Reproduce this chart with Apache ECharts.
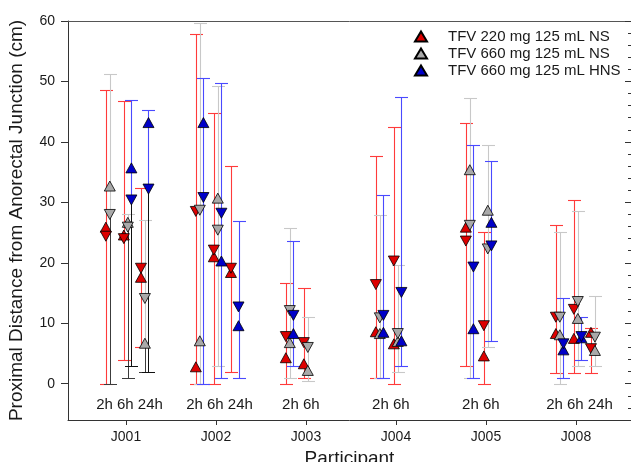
<!DOCTYPE html>
<html>
<head>
<meta charset="utf-8">
<script src="https://cdn.jsdelivr.net/npm/echarts@6/dist/echarts.min.js"></script>
<style>
html,body{margin:0;padding:0;background:#fff;}
#chart{width:631px;height:462px;}
</style>
</head>
<body>
<div id="chart"></div>
<script>
// ---------------- DATA ----------------
const participants = ['J001', 'J002', 'J003', 'J004', 'J005', 'J008'];
const timePoints = ['2h', '6h', '24h'];
const yTickValues = [0, 10, 20, 30, 40, 50, 60];
const treatmentNames = ['TFV 220 mg 125 mL NS', 'TFV 660 mg 125 mL NS', 'TFV 660 mg 125 mL HNS'];

// rows: [participant, time, up-triangle value, down-triangle value, min, max]  (cm)
const tfv220NS = [
  ['J001', '2h', 25.9, 24.4, 0.0, 48.6],
  ['J001', '6h', 24.6, 24.0, 4.0, 46.7],
  ['J001', '24h', 17.6, 19.1, 6.0, 32.4],
  ['J002', '2h', 2.8, 28.5, 0.0, 57.8],
  ['J002', '6h', 21.0, 22.1, 0.0, 44.7],
  ['J002', '24h', 18.4, 19.1, 1.9, 36.0],
  ['J003', '2h', 4.3, 7.8, 0.0, 16.6],
  ['J003', '6h', 3.3, 6.8, 1.0, 15.9],
  ['J004', '2h', 8.6, 16.4, 1.0, 37.7],
  ['J004', '6h', 6.6, 20.3, 0.0, 42.5],
  ['J005', '2h', 25.9, 23.6, 3.0, 43.2],
  ['J005', '6h', 4.6, 9.6, 0.0, 25.1],
  ['J008', '2h', 8.3, 11.0, 1.8, 26.2],
  ['J008', '6h', 7.5, 12.3, 1.8, 30.4],
  ['J008', '24h', 8.5, 5.8, 1.8, 9.3]
];
const tfv660NS = [
  ['J001', '2h', 32.7, 28.0, 0.0, 51.3],
  ['J001', '6h', 26.7, 25.9, 1.0, 28.0],
  ['J001', '24h', 6.7, 14.1, 1.9, 27.1],
  ['J002', '2h', 7.1, 28.7, 0.0, 59.7],
  ['J002', '6h', 30.7, 25.4, 3.0, 49.2],
  ['J003', '2h', 6.8, 12.1, 1.0, 25.7],
  ['J003', '6h', 2.2, 6.0, 0.5, 11.0],
  ['J004', '2h', 8.3, 10.9, 1.0, 27.9],
  ['J004', '6h', 7.0, 8.3, 2.0, 19.6],
  ['J005', '2h', 35.4, 26.2, 1.0, 47.2],
  ['J005', '6h', 28.7, 22.3, 6.0, 39.5],
  ['J008', '2h', 8.1, 11.0, 0.0, 25.1],
  ['J008', '6h', 10.8, 13.6, 3.0, 28.6],
  ['J008', '24h', 5.5, 7.7, 3.0, 14.5]
];
const tfv660HNS = [
  ['J001', '6h', 35.7, 30.4, 3.0, 47.0],
  ['J001', '24h', 43.2, 32.2, 1.9, 45.2],
  ['J002', '2h', 43.2, 30.8, 0.0, 50.6],
  ['J002', '6h', 20.3, 28.2, 1.0, 49.8],
  ['J002', '24h', 9.6, 12.7, 1.0, 27.0],
  ['J003', '2h', 8.3, 11.3, 3.0, 23.6],
  ['J004', '2h', 8.5, 11.3, 1.0, 31.2],
  ['J004', '6h', 7.1, 15.1, 3.0, 47.5],
  ['J005', '2h', 9.1, 19.3, 1.0, 39.5],
  ['J005', '6h', 26.7, 22.8, 7.0, 36.9],
  ['J008', '2h', 5.6, 6.6, 1.0, 14.1],
  ['J008', '6h', 7.6, 7.8, 4.0, 11.1]
];

// ---------------- LAYOUT / STYLE ----------------
const timeOffset = { '2h': -0.18, '6h': 0.02, '24h': 0.21 };
const treatmentOffset = [-0.044, 0, 0.04];
const markerFill = ['#dd0000', '#a9a9a9', '#0000c8'];
const barColor = ['#ff3a3a', '#c8c8c8', '#4a4aff'];
const darkLowerColor = [null, '#3c3c3c', '#111111'];
const darkLowerParticipants = ['J001'];
const FONT = '"Liberation Sans", Arial, Helvetica, sans-serif';

const allSets = [tfv220NS, tfv660NS, tfv660HNS];
const xOf = (p, t, k) => participants.indexOf(p) + 1 + timeOffset[t] + treatmentOffset[k];

const series = [];
allSets.forEach((rows, k) => {
  const barData = rows.map(r => [xOf(r[0], r[1], k), r[4], r[5], Math.min(r[2], r[3]),
    (darkLowerColor[k] && darkLowerParticipants.includes(r[0])) ? 1 : 0]);
  series.push({
    type: 'custom',
    name: treatmentNames[k] + ' range',
    data: barData,
    silent: true,
    renderItem: function (params, api) {
      const x = api.value(0), lo = api.value(1), hi = api.value(2), mk = api.value(3), dark = api.value(4);
      const pLo = api.coord([x, lo]), pHi = api.coord([x, hi]), pMk = api.coord([x, mk]);
      const px = Math.round(pLo[0]) + 0.5;
      const hw = 6.5;
      const col = barColor[k];
      const st = { stroke: col, lineWidth: 1.1 };
      const yHi = Math.round(pHi[1]) + 0.5, yLo = Math.round(pLo[1]) + 0.5;
      const children = [];
      children.push({ type: 'line', shape: { x1: px - hw, y1: yHi, x2: px + hw, y2: yHi }, style: st });
      if (dark === 1) {
        const dst = { stroke: darkLowerColor[k], lineWidth: 1 };
        children.push({ type: 'line', shape: { x1: px, y1: yHi, x2: px, y2: pMk[1] }, style: st });
        children.push({ type: 'line', shape: { x1: px, y1: pMk[1], x2: px, y2: yLo }, style: dst });
        children.push({ type: 'line', shape: { x1: px - hw, y1: yLo, x2: px + hw, y2: yLo }, style: dst });
      } else {
        children.push({ type: 'line', shape: { x1: px, y1: yHi, x2: px, y2: yLo }, style: st });
        children.push({ type: 'line', shape: { x1: px - hw, y1: yLo, x2: px + hw, y2: yLo }, style: st });
      }
      return { type: 'group', children: children };
    },
    z: 2
  });
  series.push({
    type: 'scatter',
    name: treatmentNames[k],
    symbol: 'triangle',
    symbolSize: [11, 10],
    data: rows.map(r => [xOf(r[0], r[1], k), r[2]]),
    itemStyle: { color: markerFill[k], borderColor: '#000', borderWidth: 0.8, opacity: 1 },
    emphasis: { disabled: true },
    z: 2
  });
  series.push({
    type: 'scatter',
    name: treatmentNames[k],
    symbol: 'triangle',
    symbolRotate: 180,
    symbolSize: [11, 10],
    data: rows.map(r => [xOf(r[0], r[1], k), r[3]]),
    itemStyle: { color: markerFill[k], borderColor: '#000', borderWidth: 0.8, opacity: 1 },
    emphasis: { disabled: true },
    z: 2
  });
});

// time-point labels under each participant group
const timeLabelData = participants.map((p, i) => {
  const present = timePoints.filter(t => allSets.some(rows => rows.some(r => r[0] === p && r[1] === t)));
  const center = present.reduce((s, t) => s + timeOffset[t], 0) / present.length;
  return [i + 1 + center, -3.5, present.join(' ')];
});
series.push({
  type: 'custom',
  name: 'time labels',
  silent: true,
  data: timeLabelData,
  renderItem: function (params, api) {
    const p = api.coord([api.value(0), api.value(1)]);
    return {
      type: 'text',
      x: p[0] + 2, y: p[1],
      style: { text: timeLabelData[params.dataIndex][2], fill: '#1a1a1a', font: '15px ' + FONT, textAlign: 'center', textVerticalAlign: 'middle' }
    };
  },
  z: 3
});

const axisColor = '#333';
const option = {
  animation: false,
  backgroundColor: '#fff',
  textStyle: { fontFamily: FONT },
  grid: { left: 68, right: 0, top: 21, bottom: 42, containLabel: false, outerBoundsMode: 'none' },
  legend: {
    data: treatmentNames,
    orient: 'vertical',
    left: 414,
    top: 29,
    itemWidth: 12,
    itemHeight: 10,
    itemGap: 2,
    padding: 0,
    textStyle: { fontSize: 15, color: '#1a1a1a', fontFamily: FONT, lineHeight: 15, padding: [0, 0, 0, 16] },
    selectedMode: false
  },
  xAxis: [{
    type: 'value',
    min: 0.3556,
    max: 6.611,
    name: 'Participant',
    nameLocation: 'middle',
    nameGap: 26,
    nameTextStyle: { fontSize: 19, color: '#1a1a1a', fontFamily: FONT },
    splitLine: { show: false },
    axisLine: { show: true, onZero: false, lineStyle: { color: axisColor, width: 1 } },
    axisTick: { show: true, length: 5, customValues: participants.map((p, i) => i + 1), lineStyle: { color: axisColor } },
    axisLabel: { show: true, fontSize: 14, color: '#1a1a1a', margin: 10, customValues: participants.map((p, i) => i + 1),
      formatter: v => participants[Math.round(v) - 1] || '' }
  }, {
    type: 'value',
    position: 'top',
    min: 0.3556,
    max: 6.611,
    axisLine: { show: true, onZero: false, lineStyle: { color: '#555', width: 1 } },
    axisTick: { show: false },
    axisLabel: { show: false },
    splitLine: { show: false }
  }],
  yAxis: [{
    type: 'value',
    min: -6,
    max: 60,
    name: 'Proximal Distance from Anorectal Junction (cm)',
    nameLocation: 'middle',
    nameGap: 42,
    nameTextStyle: { fontSize: 19, color: '#1a1a1a', fontFamily: FONT },
    splitLine: { show: false },
    axisLine: { show: true, onZero: false, lineStyle: { color: axisColor, width: 1 } },
    axisTick: { show: true, length: 7, customValues: yTickValues, lineStyle: { color: axisColor } },
    axisLabel: { show: true, fontSize: 14, color: '#1a1a1a', margin: 13, customValues: yTickValues }
  }, {
    type: 'value',
    position: 'right',
    min: -6,
    max: 60,
    splitLine: { show: false },
    axisLine: { show: false },
    axisTick: { show: true, inside: true, length: 6, customValues: yTickValues, lineStyle: { color: axisColor } },
    axisLabel: { show: false }
  }, {
    type: 'value',
    position: 'right',
    min: -6,
    max: 60,
    splitLine: { show: false },
    axisLine: { show: false },
    axisTick: { show: true, inside: true, length: 3,
      customValues: [-4, -2, 2, 4, 6, 8, 12, 14, 16, 18, 22, 24, 26, 28, 32, 34, 36, 38, 42, 44, 46, 48, 52, 54, 56, 58],
      lineStyle: { color: axisColor } },
    axisLabel: { show: false }
  }],
  series: series
};

const chart = echarts.init(document.getElementById('chart'), null, { renderer: 'canvas' });
chart.setOption(option);
</script>
</body>
</html>
